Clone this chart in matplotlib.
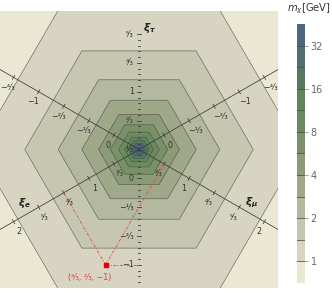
import numpy as np
import matplotlib
matplotlib.use("Agg")
import matplotlib.pyplot as plt

# ---- data ----
levels = [0.707, 1.0, 1.414, 2.0, 2.828, 4.0, 5.657, 8.0, 11.31, 16.0, 22.63, 32.0, 45.25]
band_colors = ['#eae7d3', '#d7d5c1', '#c7c7b1', '#b4b89f', '#a0a88a', '#8c9b77',
               '#7a9168', '#6c8a5f', '#60845b', '#57795f', '#506f6c', '#4c6780']
cbar_ticks = [1, 2, 4, 8, 16, 32]
cbar_ticklabels = ['1', '2', '4', '8', '16', '32']
# axis tick values in units of 1/3
slant_thirds = [-4, -3, -2, -1, 0, 2, 3, 4, 5, 6]
tau_thirds = [-3, -2, -1, 0, 1, 2, 3, 4, 5]
m_scale = 1.61          # m_chi = m_scale / max_i |xi_i - 1/3|
point = (4/3, 2/3, -1.0)
point_label = "(⁴⁄₃, ²⁄₃, −1)"

SQ3 = np.sqrt(3.0)

def to_xy(xe, xm, xt):
    return (SQ3 / 2) * (xm - xe), xt - (xe + xm) / 2

def frac(n):
    sign = '−' if n < 0 else ''
    a = abs(n)
    if a % 3 == 0:
        return sign + str(a // 3)
    sup = {1: '¹', 2: '²', 4: '⁴', 5: '⁵', 7: '⁷'}
    return sign + sup[a] + '⁄' + '₃'

fig = plt.figure(figsize=(3.32, 3.0), dpi=100)
ax = fig.add_axes([0.0, 12 / 300, 278 / 332, 277 / 300])
R = 2.4
ax.set_xlim(-R, R)
ax.set_ylim(-R, R)
ax.set_axis_off()

# field
g = np.linspace(-R, R, 900)
X, Y = np.meshgrid(g, g)
ut = Y / 1.5
um = (-ut + 2 * X / SQ3) / 2
ue = (-ut - 2 * X / SQ3) / 2
D = np.maximum(np.maximum(np.abs(ue), np.abs(um)), np.abs(ut))
M = m_scale / np.maximum(D, 1e-6)
M = np.clip(M, levels[0] * 1.001, levels[-1] * 0.999)
ax.contourf(X, Y, M, levels=levels, colors=band_colors)
ax.contour(X, Y, M, levels=levels[1:-1], colors='#4a4a4a', linewidths=0.45, alpha=0.75)

tick_col = '#333333'
fs = 5.8
# slanted axes
dirs = {'e': np.array([-SQ3 / 2, -0.5]), 'm': np.array([SQ3 / 2, -0.5])}
perp = {'e': np.array([0.5, -SQ3 / 2]), 'm': np.array([-0.5, -SQ3 / 2])}
for k in ('e', 'm'):
    d = dirs[k]
    ax.plot([-5 * d[0], 5 * d[0]], [-5 * d[1], 5 * d[1]], color='#3a3a3a', lw=0.55)
    for n in slant_thirds + [1]:
        s = 1.5 * (n / 3 - 1 / 3)
        p = s * d
        nv = np.array([-d[1], d[0]])
        ax.plot([p[0] - 0.04 * nv[0], p[0] + 0.04 * nv[0]],
                [p[1] - 0.04 * nv[1], p[1] + 0.04 * nv[1]], color='#3a3a3a', lw=0.55)
    for n in slant_thirds:
        s = 1.5 * (n / 3 - 1 / 3)
        p = s * d + 0.2 * perp[k]
        ax.text(p[0], p[1], frac(n), fontsize=fs, color=tick_col, ha='center', va='center')

# vertical tau axis: ticks only
for j in range(-20, 26):
    t = j / 15
    y = 1.5 * t - 0.5
    if j % 5 == 0:
        ax.plot([-0.04, 0.04], [y, y], color='#3a3a3a', lw=0.6)
    else:
        ax.plot([-0.015, 0.015], [y, y], color='#3a3a3a', lw=0.6)
for n in tau_thirds:
    y = 1.5 * (n / 3) - 0.5
    ax.text(-0.09, y, frac(n), fontsize=fs, color=tick_col, ha='right', va='center')

# axis names
ax.text(0.19, 2.11, r'$\boldsymbol{\xi}_{\boldsymbol{\tau}}$', fontsize=7.5, ha='center', va='center', color='#222222')
ax.text(-1.98, -0.92, r'$\boldsymbol{\xi}_{\boldsymbol{e}}$', fontsize=7.5, ha='center', va='center', color='#222222')
ax.text(1.95, -0.92, r'$\boldsymbol{\xi}_{\boldsymbol{\mu}}$', fontsize=7.5, ha='center', va='center', color='#222222')

# red annotation
xe, xm, xt = point
px, py = to_xy(xe, xm, xt)
red_ls = (0, (3, 1.5, 1, 1.5))
feet = [to_xy((1 - xt) / 2, (1 - xt) / 2, xt),
        to_xy(xe, (1 - xe) / 2, (1 - xe) / 2),
        to_xy((1 - xm) / 2, xm, (1 - xm) / 2)]
for fx, fy in feet:
    ax.plot([px, fx], [py, fy], color='#e8504a', lw=0.7, ls=red_ls)
ax.plot([px], [py], marker='s', ms=3.0, color='#e00000', mec='#e00000')
ax.text(px - 0.28, py - 0.22, point_label, fontsize=5.8, color='#e03c3c', ha='center', va='center')

# colorbar
cax = fig.add_axes([297 / 332, 17 / 300, 8 / 332, 259 / 300])
cax.set_yscale('log')
cax.set_ylim(levels[0], levels[-1])
cax.set_xlim(0, 1)
for i, c in enumerate(band_colors):
    cax.axhspan(levels[i], levels[i + 1], color=c, lw=0)
for lv in levels[1:-1]:
    cax.axhline(lv, color='#4a4a4a', lw=0.7, alpha=0.8)
for sp in cax.spines.values():
    sp.set_visible(False)
cax.set_xticks([])
cax.yaxis.tick_right()
cax.set_yticks(cbar_ticks)
cax.set_yticklabels(cbar_ticklabels)
cax.minorticks_off()
cax.tick_params(axis='y', length=2.5, width=0.6, color='#888888', labelsize=7,
                labelcolor='#666666', pad=1.5)
fig.text(309 / 332, 1 - 9 / 300, r'$m_\chi$[GeV]', fontsize=7.2, ha='center', va='center', color='#333333')

fig.savefig('out.png', dpi=100)
